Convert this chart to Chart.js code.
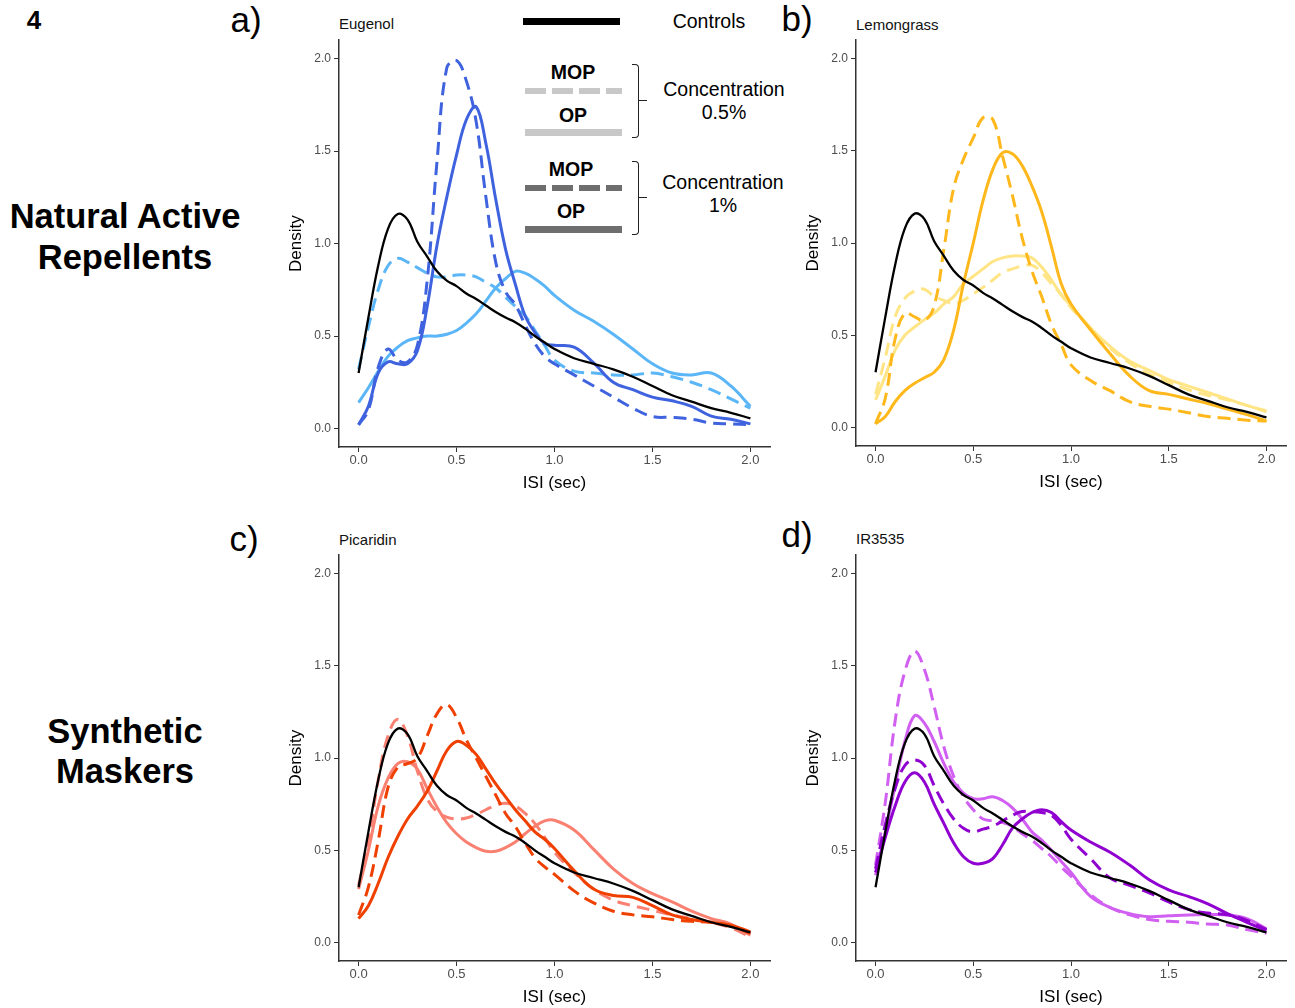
<!DOCTYPE html>
<html>
<head>
<meta charset="utf-8">
<script src="https://cdn.jsdelivr.net/npm/chart.js@4.4.1/dist/chart.umd.min.js"></script>
<style>
  body { margin: 0; background: #fff; font-family: "Liberation Sans", Arial, sans-serif; }
  #fig { position: relative; width: 1295px; height: 1008px; overflow: hidden; background: #fff; }
  canvas { position: absolute; }
  .t { position: absolute; white-space: nowrap; line-height: 1; transform: translate(-50%, -50%); color: #000; text-align: center; }
  .l { position: absolute; white-space: nowrap; line-height: 1; transform: translateY(-50%); color: #111; }
  .bar { position: absolute; }
  .br { position: absolute; border: 1.5px solid #222; border-left: none; border-radius: 0 4px 4px 0; }
  .tip { position: absolute; height: 1.5px; background: #222; }
</style>
</head>
<body>
<div id="fig">
  <div class="t" style="left:34px;top:20px;font-size:26px;font-weight:bold">4</div>
  <div class="t" style="left:246px;top:19px;font-size:35px">a)</div>
  <div class="t" style="left:797px;top:18px;font-size:35px">b)</div>
  <div class="t" style="left:244px;top:538px;font-size:35px">c)</div>
  <div class="t" style="left:797px;top:534px;font-size:35px">d)</div>

  <div class="t" style="left:125px;top:237px;font-size:34.5px;font-weight:bold;line-height:41px">Natural Active<br>Repellents</div>
  <div class="t" style="left:125px;top:751px;font-size:34.5px;font-weight:bold;line-height:40px">Synthetic<br>Maskers</div>

  <div class="l" style="left:339px;top:23px;font-size:15px">Eugenol</div>
  <div class="l" style="left:856px;top:24px;font-size:15px">Lemongrass</div>
  <div class="l" style="left:339px;top:539px;font-size:15px">Picaridin</div>
  <div class="l" style="left:856px;top:538px;font-size:15px">IR3535</div>

  <!-- legend inside panel a -->
  <div class="bar" style="left:523px;top:18px;width:97px;height:6.5px;background:#000"></div>
  <div class="t" style="left:709px;top:22px;font-size:19.5px">Controls</div>

  <div class="t" style="left:573px;top:73px;font-size:19.5px;font-weight:bold">MOP</div>
  <div class="bar" style="left:525px;top:88px;width:97px;height:6px;background:repeating-linear-gradient(to right,#c8c8c8 0 20.7px,transparent 20.7px 27px)"></div>
  <div class="t" style="left:573px;top:116px;font-size:19.5px;font-weight:bold">OP</div>
  <div class="bar" style="left:525px;top:129px;width:97px;height:6.5px;background:#c8c8c8"></div>
  <div class="br" style="left:632px;top:64px;width:6px;height:72px"></div>
  <div class="tip" style="left:639px;top:99.5px;width:8px"></div>
  <div class="t" style="left:724px;top:90px;font-size:19.5px">Concentration</div>
  <div class="t" style="left:724px;top:113px;font-size:19.5px">0.5%</div>

  <div class="t" style="left:571px;top:170px;font-size:19.5px;font-weight:bold">MOP</div>
  <div class="bar" style="left:525px;top:185px;width:97px;height:6px;background:repeating-linear-gradient(to right,#6e6e6e 0 20.7px,transparent 20.7px 27px)"></div>
  <div class="t" style="left:571px;top:212px;font-size:19.5px;font-weight:bold">OP</div>
  <div class="bar" style="left:525px;top:226px;width:97px;height:6.5px;background:#6e6e6e"></div>
  <div class="br" style="left:632px;top:161px;width:6px;height:72px"></div>
  <div class="tip" style="left:639px;top:196.5px;width:8px"></div>
  <div class="t" style="left:723px;top:183px;font-size:19.5px">Concentration</div>
  <div class="t" style="left:723px;top:206px;font-size:19.5px">1%</div>
</div>

<script>
// ISI grid (sec) the densities were read at
const isi = [0, 0.05, 0.1, 0.15, 0.2, 0.25, 0.3, 0.35, 0.4, 0.45, 0.5, 0.55, 0.6, 0.65, 0.7, 0.75, 0.8, 0.85, 0.9, 0.95, 1.0,
             1.1, 1.2, 1.3, 1.4, 1.5, 1.6, 1.7, 1.8, 1.9, 2.0];
const xTicks = [0, 0.5, 1, 1.5, 2];
const yTicks = [0, 0.5, 1, 1.5, 2];

const controls = [0.30, 0.60, 0.88, 1.08, 1.16, 1.13, 1.01, 0.93, 0.85, 0.80, 0.77, 0.73, 0.70, 0.665, 0.63, 0.60, 0.575, 0.54, 0.50, 0.465, 0.43,
                  0.38, 0.35, 0.32, 0.28, 0.23, 0.18, 0.145, 0.11, 0.085, 0.055];

// a) Eugenol
const eugenolOP05 = [0.14, 0.22, 0.31, 0.39, 0.44, 0.475, 0.49, 0.50, 0.50, 0.51, 0.53, 0.57, 0.62, 0.69, 0.76, 0.81, 0.85, 0.84, 0.81, 0.77, 0.72,
                     0.64, 0.58, 0.51, 0.43, 0.35, 0.30, 0.29, 0.30, 0.23, 0.12];
const eugenolMOP05 = [0.32, 0.55, 0.75, 0.88, 0.92, 0.90, 0.87, 0.84, 0.82, 0.82, 0.83, 0.83, 0.82, 0.79, 0.76, 0.71, 0.66, 0.61, 0.53, 0.45, 0.37,
                      0.31, 0.30, 0.29, 0.29, 0.30, 0.28, 0.25, 0.21, 0.16, 0.11];
const eugenolOP1 = [0.02, 0.12, 0.30, 0.36, 0.35, 0.35, 0.42, 0.66, 0.99, 1.25, 1.48, 1.67, 1.74, 1.54, 1.24, 0.97, 0.78, 0.61, 0.52, 0.46, 0.45,
                    0.44, 0.355, 0.25, 0.21, 0.17, 0.15, 0.12, 0.067, 0.05, 0.025];
const eugenolMOP1 = [0.02, 0.10, 0.33, 0.43, 0.37, 0.36, 0.45, 0.80, 1.44, 1.95, 1.99, 1.88, 1.66, 1.25, 0.90, 0.74, 0.67, 0.56, 0.46, 0.39, 0.35,
                     0.29, 0.23, 0.17, 0.11, 0.065, 0.06, 0.05, 0.03, 0.025, 0.02];

// b) Lemongrass
const lemongrassOP05 = [0.15, 0.28, 0.42, 0.50, 0.545, 0.585, 0.62, 0.67, 0.71, 0.78, 0.82, 0.86, 0.90, 0.92, 0.93, 0.93, 0.92, 0.87, 0.80, 0.72, 0.66,
                        0.54, 0.44, 0.36, 0.31, 0.26, 0.225, 0.19, 0.155, 0.12, 0.09];
const lemongrassMOP05 = [0.18, 0.38, 0.60, 0.70, 0.74, 0.75, 0.71, 0.69, 0.67, 0.69, 0.725, 0.76, 0.80, 0.84, 0.86, 0.875, 0.88, 0.84, 0.78, 0.72, 0.65,
                         0.54, 0.43, 0.35, 0.29, 0.245, 0.205, 0.175, 0.15, 0.12, 0.085];
const lemongrassOP1 = [0.02, 0.06, 0.14, 0.20, 0.24, 0.27, 0.30, 0.37, 0.53, 0.78, 1.00, 1.23, 1.40, 1.49, 1.485, 1.42, 1.31, 1.17, 0.98, 0.78, 0.67,
                       0.53, 0.40, 0.28, 0.20, 0.18, 0.155, 0.13, 0.10, 0.07, 0.035];
const lemongrassMOP1 = [0.02, 0.16, 0.48, 0.62, 0.60, 0.58, 0.66, 0.97, 1.30, 1.455, 1.57, 1.68, 1.67, 1.47, 1.26, 1.03, 0.85, 0.71, 0.56, 0.45, 0.34,
                        0.255, 0.20, 0.14, 0.115, 0.10, 0.08, 0.06, 0.05, 0.04, 0.035];

// c) Picaridin
const picaridinOP05 = [0.29, 0.50, 0.74, 0.89, 0.97, 0.98, 0.94, 0.835, 0.735, 0.65, 0.59, 0.545, 0.515, 0.495, 0.495, 0.515, 0.545, 0.59, 0.63, 0.66, 0.663,
                       0.61, 0.505, 0.40, 0.32, 0.265, 0.22, 0.17, 0.13, 0.10, 0.04];
const picaridinMOP05 = [0.31, 0.55, 0.88, 1.12, 1.21, 1.12, 0.93, 0.78, 0.71, 0.68, 0.67, 0.675, 0.695, 0.72, 0.745, 0.755, 0.74, 0.70, 0.645, 0.57, 0.49,
                        0.38, 0.29, 0.23, 0.20, 0.175, 0.15, 0.13, 0.11, 0.08, 0.03];
const picaridinOP1 = [0.13, 0.20, 0.32, 0.46, 0.575, 0.67, 0.74, 0.82, 0.93, 1.04, 1.09, 1.07, 1.02, 0.94, 0.86, 0.79, 0.72, 0.66, 0.60, 0.56, 0.51,
                      0.39, 0.29, 0.255, 0.245, 0.20, 0.15, 0.125, 0.11, 0.094, 0.058];
const picaridinMOP1 = [0.15, 0.30, 0.55, 0.84, 0.95, 0.97, 1.00, 1.12, 1.24, 1.29, 1.22, 1.10, 1.00, 0.90, 0.80, 0.70, 0.63, 0.54, 0.46, 0.41, 0.37,
                       0.28, 0.215, 0.17, 0.15, 0.14, 0.125, 0.115, 0.11, 0.09, 0.05];

// d) IR3535
const ir3535OP05 = [0.365, 0.60, 0.85, 1.09, 1.23, 1.19, 1.09, 0.97, 0.87, 0.81, 0.78, 0.78, 0.79, 0.77, 0.73, 0.67, 0.60, 0.555, 0.50, 0.44, 0.38,
                    0.25, 0.19, 0.157, 0.14, 0.145, 0.15, 0.152, 0.15, 0.13, 0.075];
const ir3535MOP05 = [0.42, 0.76, 1.20, 1.47, 1.58, 1.48, 1.28, 1.06, 0.90, 0.79, 0.72, 0.67, 0.66, 0.65, 0.63, 0.59, 0.555, 0.51, 0.465, 0.41, 0.36,
                     0.26, 0.19, 0.15, 0.125, 0.115, 0.11, 0.10, 0.095, 0.07, 0.05];
const ir3535OP1 = [0.38, 0.57, 0.74, 0.87, 0.92, 0.87, 0.75, 0.645, 0.54, 0.465, 0.43, 0.43, 0.455, 0.53, 0.62, 0.67, 0.705, 0.72, 0.705, 0.655, 0.61,
                   0.545, 0.49, 0.42, 0.34, 0.285, 0.25, 0.21, 0.157, 0.11, 0.065];
const ir3535MOP1 = [0.40, 0.64, 0.835, 0.96, 0.99, 0.96, 0.85, 0.75, 0.67, 0.62, 0.60, 0.615, 0.63, 0.66, 0.69, 0.71, 0.71, 0.705, 0.69, 0.635, 0.56,
                    0.455, 0.35, 0.31, 0.27, 0.22, 0.18, 0.16, 0.15, 0.12, 0.07];

const family = '"Liberation Sans", Arial, sans-serif';
Chart.defaults.font.family = family;

const fig = document.getElementById('fig');

// plot box in page pixels: left, top, right, bottom
const panels = [
  { box: [339, 40, 770, 447], light: '#5bb6f8', dark: '#3f63de', op05: eugenolOP05, mop05: eugenolMOP05, op1: eugenolOP1, mop1: eugenolMOP1 },
  { box: [856, 40, 1286, 446], light: '#ffe585', dark: '#ffb81c', op05: lemongrassOP05, mop05: lemongrassMOP05, op1: lemongrassOP1, mop1: lemongrassMOP1 },
  { box: [339, 555, 770, 961], light: '#fa8072', dark: '#f04000', op05: picaridinOP05, mop05: picaridinMOP05, op1: picaridinOP1, mop1: picaridinMOP1 },
  { box: [856, 555, 1286, 961], light: '#d160f2', dark: '#9000d0', op05: ir3535OP05, mop05: ir3535MOP05, op1: ir3535OP1, mop1: ir3535MOP1 },
];

function curve(values, color, dashed, width) {
  return {
    data: values.map((v, i) => ({ x: isi[i], y: v })),
    borderColor: color,
    borderWidth: width,
    borderDash: dashed ? [13, 7] : [],
    borderCapStyle: 'butt',
    pointRadius: 0,
    tension: 0.4,
    fill: false,
  };
}

function axisBase(size, pad) {
  return {
    type: 'linear',
    min: -0.1,
    max: 2.1,
    grid: { drawOnChartArea: false, drawTicks: true, tickLength: 5, color: '#333', tickColor: '#333', tickWidth: 1 },
    border: { display: true, color: '#333', width: 1.5 },
    ticks: {
      callback: v => v.toFixed(1),
      color: '#4d4d4d',
      font: { size, family },
      padding: pad,
      maxRotation: 0,
      autoSkip: false,
    },
  };
}

function makePanel(p) {
  const [left, top, right, bottom] = p.box;
  const padL = 70, padT = 10, padR = 10, padB = 64;
  const cv = document.createElement('canvas');
  cv.width = right - left + padL + padR;
  cv.height = bottom - top + padT + padB;
  cv.style.left = (left - padL) + 'px';
  cv.style.top = (top - padT) + 'px';
  fig.appendChild(cv);

  const x = axisBase(13, 1);
  x.afterBuildTicks = s => { s.ticks = xTicks.map(v => ({ value: v })); };
  x.afterFit = s => { s.height = padB; };
  x.title = { display: true, text: 'ISI (sec)', color: '#000', font: { size: 17, family }, padding: { top: 0, bottom: 17 } };

  const y = axisBase(12, 3);
  y.afterBuildTicks = s => { s.ticks = yTicks.map(v => ({ value: v })); };
  y.afterFit = s => { s.width = padL; };
  y.title = { display: true, text: 'Density', color: '#000', font: { size: 17, family }, padding: { top: 17, bottom: 0 } };

  return new Chart(cv, {
    type: 'line',
    data: {
      datasets: [
        curve(controls, '#000000', false, 2.3),
        curve(p.mop1, p.dark, true, 3),
        curve(p.op1, p.dark, false, 3),
        curve(p.mop05, p.light, true, 3),
        curve(p.op05, p.light, false, 3),
      ],
    },
    options: {
      responsive: false,
      animation: false,
      events: [],
      layout: { padding: { left: 0, top: padT, right: padR, bottom: 0 }, autoPadding: false },
      plugins: { legend: { display: false }, tooltip: { enabled: false }, title: { display: false } },
      scales: { x, y },
    },
  });
}

panels.forEach(makePanel);
</script>
</body>
</html>
